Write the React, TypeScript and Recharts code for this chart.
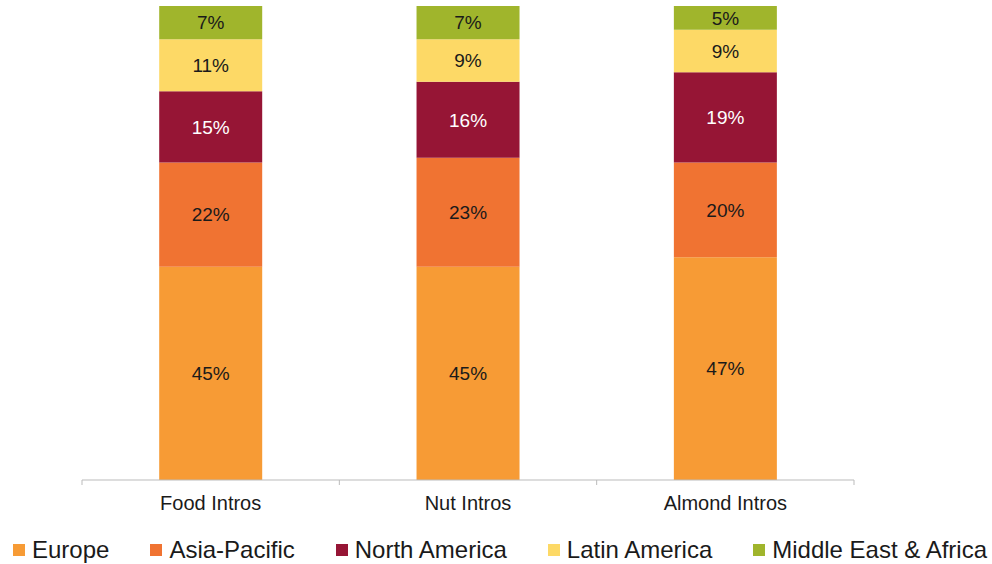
import React from 'react';
import { BarChart, Bar, XAxis, YAxis, LabelList } from 'recharts';

const categories = ['Food Intros', 'Nut Intros', 'Almond Intros'];
const europe = [45, 45, 47];
const asiaPacific = [22, 23, 20];
const northAmerica = [15, 16, 19];
const latinAmerica = [11, 9, 9];
const middleEast = [7, 7, 5];

const series = [
  { key: 'europe', name: 'Europe', color: '#F79B35', text: '#1a1a1a' },
  { key: 'asiaPacific', name: 'Asia-Pacific', color: '#F07332', text: '#1a1a1a' },
  { key: 'northAmerica', name: 'North America', color: '#961535', text: '#ffffff' },
  { key: 'latinAmerica', name: 'Latin America', color: '#FDD966', text: '#1a1a1a' },
  { key: 'middleEast', name: 'Middle East & Africa', color: '#A0B52C', text: '#1a1a1a' },
];

const data = categories.map((name, i) => ({
  name,
  europe: europe[i],
  asiaPacific: asiaPacific[i],
  northAmerica: northAmerica[i],
  latinAmerica: latinAmerica[i],
  middleEast: middleEast[i],
}));

const FONT = '"Liberation Sans", Arial, sans-serif';

const CategoryTick = (props: any) => {
  const { x, y, payload, index } = props;
  const half = payload?.offset || 128.7;
  return (
    <g>
      <line x1={x - half} x2={x - half} y1={y} y2={y + 5} stroke="#bbbbbb" />
      {index === categories.length - 1 && (
        <line x1={x + half} x2={x + half} y1={y} y2={y + 5} stroke="#bbbbbb" />
      )}
      <text x={x} y={y + 30} textAnchor="middle" fontSize={20} fill="#1a1a1a" fontFamily={FONT}>
        {payload.value}
      </text>
    </g>
  );
};

// legend drawn below the chart so it doesn't eat plot height
const ChartLegend = () => (
  <div
    style={{
      position: 'absolute',
      left: 13,
      top: 536,
      display: 'flex',
      gap: 41,
      fontFamily: FONT,
      fontSize: 24,
      color: '#1a1a1a',
      whiteSpace: 'nowrap',
    }}
  >
    {series.map((s) => (
      <div key={s.key} style={{ display: 'flex', alignItems: 'center' }}>
        <span style={{ display: 'inline-block', width: 12, height: 12, background: s.color, marginRight: 7 }} />
        <span>{s.name}</span>
      </div>
    ))}
  </div>
);

export default function App() {
  return (
    <div style={{ position: 'absolute', left: 0, top: 0, width: 992, height: 564, background: '#fff' }}>
      <BarChart
        width={992}
        height={564}
        data={data}
        margin={{ top: 6, right: 138, left: 82, bottom: 54 }}
        barCategoryGap="30%"
      >
        <XAxis
          dataKey="name"
          height={30}
          axisLine={{ stroke: '#bbbbbb' }}
          tickLine={false}
          tickSize={0}
          tickMargin={0}
          tick={<CategoryTick />}
          interval={0}
        />
        <YAxis hide domain={[0, 100]} />
        {series.map((s) => (
          <Bar key={s.key} dataKey={s.key} name={s.name} stackId="a" fill={s.color} isAnimationActive={false}>
            <LabelList
              dataKey={s.key}
              position="center"
              formatter={(v: any) => `${v}%`}
              fill={s.text}
              fontSize={19}
              fontFamily={FONT}
            />
          </Bar>
        ))}
      </BarChart>
      <ChartLegend />
    </div>
  );
}
